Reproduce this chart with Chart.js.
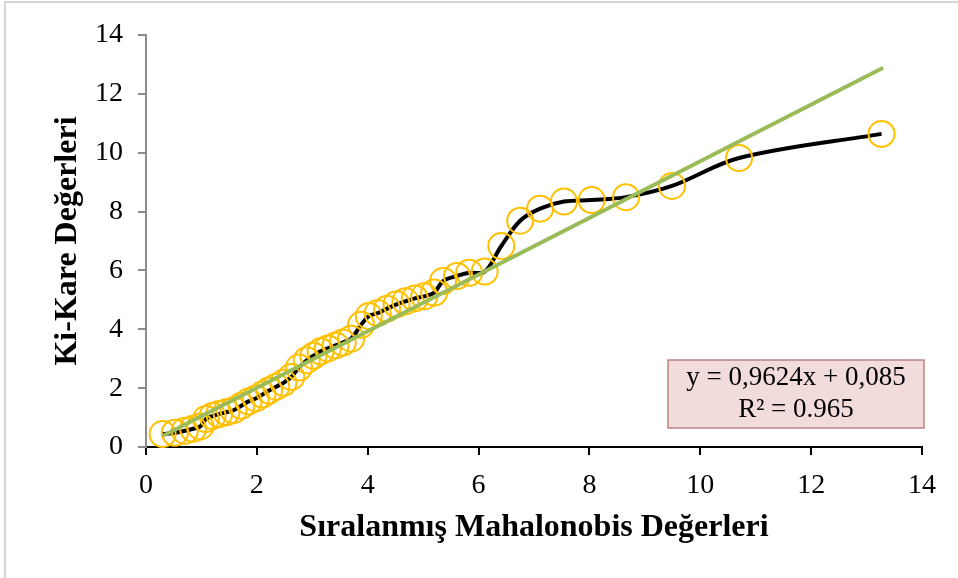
<!DOCTYPE html>
<html>
<head>
<meta charset="utf-8">
<script src="https://cdn.jsdelivr.net/npm/chart.js@4.4.1/dist/chart.umd.min.js"></script>
<style>
  html, body { margin: 0; padding: 0; background: #ffffff; }
  #wrap { width: 958px; height: 578px; position: relative; }
</style>
</head>
<body>
<div id="wrap"><canvas id="c" width="958" height="578"></canvas></div>
<script>
// Sorted Mahalanobis values (x) and chi-square quantiles (y)
const mahalanobis = [0.30, 0.52, 0.70, 0.85, 0.98, 1.08, 1.20, 1.32, 1.45, 1.58,
  1.72, 1.85, 1.98, 2.10, 2.22, 2.35, 2.48, 2.62, 2.76, 2.90,
  3.02, 3.15, 3.28, 3.42, 3.55, 3.70, 3.88, 4.02, 4.18, 4.35,
  4.52, 4.68, 4.85, 5.02, 5.20, 5.36, 5.61, 5.83, 6.11, 6.41,
  6.75, 7.11, 7.54, 8.04, 8.66, 9.49, 10.70, 13.27];
const chiSquare = [0.44, 0.48, 0.55, 0.62, 0.70, 0.95, 1.05, 1.12, 1.18, 1.25,
  1.40, 1.55, 1.65, 1.78, 1.92, 2.05, 2.18, 2.38, 2.70, 2.95,
  3.10, 3.25, 3.35, 3.45, 3.55, 3.68, 4.15, 4.45, 4.55, 4.70,
  4.85, 4.95, 5.05, 5.12, 5.25, 5.64, 5.81, 5.92, 5.96, 6.83,
  7.69, 8.10, 8.34, 8.39, 8.49, 8.87, 9.82, 10.64];
// Linear trend line as given on the chart
const trendSlope = 0.9624;
const trendIntercept = 0.085;
const trendRange = [0.30, 13.30];
const equationLines = ["y = 0,9624x + 0,085", "R\u00B2 = 0.965"];
const axisTicks = [0, 2, 4, 6, 8, 10, 12, 14];
const xTitle = "S\u0131ralanm\u0131\u015F Mahalonobis De\u011Ferleri";
const yTitle = "Ki-Kare De\u011Ferleri";

const points = mahalanobis.map((x, i) => ({ x: x, y: chiSquare[i] }));
const trendPoints = trendRange.map(x => ({ x: x, y: trendSlope * x + trendIntercept }));

const SERIF = "'Liberation Serif', 'Times New Roman', serif";

const framePlugin = {
  id: 'frame',
  beforeDraw(chart) {
    const ctx = chart.ctx;
    ctx.save();
    ctx.fillStyle = '#ffffff';
    ctx.fillRect(0, 0, chart.width, chart.height);
    ctx.strokeStyle = '#c8c8c8';
    ctx.lineWidth = 1.5;
    ctx.beginPath();
    ctx.moveTo(5, chart.height);
    ctx.lineTo(5, 2);
    ctx.lineTo(chart.width, 2);
    ctx.stroke();
    ctx.restore();
  }
};

const equationPlugin = {
  id: 'equation',
  afterDraw(chart) {
    const a = chart.chartArea;
    const ctx = chart.ctx;
    const left = a.right - 254, top = a.bottom - 87, w = 256, h = 68;
    ctx.save();
    ctx.fillStyle = '#F2DCDB';
    ctx.fillRect(left, top, w, h);
    ctx.strokeStyle = '#B98484';
    ctx.lineWidth = 1.5;
    ctx.strokeRect(left, top, w, h);
    ctx.fillStyle = '#000000';
    ctx.font = '27px ' + SERIF;
    ctx.textAlign = 'center';
    ctx.textBaseline = 'middle';
    ctx.fillText(equationLines[0], left + w / 2, top + 18);
    ctx.fillText(equationLines[1], left + w / 2, top + 50);
    ctx.restore();
  }
};

new Chart(document.getElementById('c'), {
  type: 'scatter',
  data: {
    datasets: [
      {
        label: 'trend',
        data: trendPoints,
        showLine: true,
        borderColor: '#9BBB59',
        borderWidth: 4,
        pointRadius: 0,
        tension: 0,
        clip: false
      },
      {
        label: 'data',
        data: points,
        showLine: true,
        borderColor: '#000000',
        borderWidth: 4,
        tension: 0.35,
        pointRadius: 13,
        pointBorderColor: '#FFC000',
        pointBorderWidth: 2,
        pointBackgroundColor: 'rgba(0,0,0,0)',
        clip: false
      }
    ]
  },
  options: {
    responsive: false,
    animation: false,
    events: [],
    layout: { padding: { top: 35, right: 36, bottom: 0, left: 0 } },
    plugins: {
      legend: { display: false },
      tooltip: { enabled: false }
    },
    scales: {
      x: {
        type: 'linear',
        min: 0, max: 14,
        afterBuildTicks: s => { s.ticks = axisTicks.map(v => ({ value: v })); },
        afterFit: s => { s.height = 131; },
        border: { color: '#000000', width: 2 },
        grid: { drawOnChartArea: false, drawTicks: true, tickLength: 8, color: '#000000', lineWidth: 2 },
        ticks: { color: '#000000', font: { family: SERIF, size: 28 }, padding: 14, maxRotation: 0 },
        title: {
          display: true, text: xTitle, color: '#000000',
          font: { family: SERIF, size: 32, weight: 'bold' },
          padding: { top: 0, bottom: 31 }
        }
      },
      y: {
        type: 'linear',
        min: 0, max: 14,
        afterBuildTicks: s => { s.ticks = axisTicks.map(v => ({ value: v })); },
        afterFit: s => { s.width = 146; },
        border: { color: '#8c8c8c', width: 2 },
        grid: { drawOnChartArea: false, drawTicks: true, tickLength: 8, color: '#8c8c8c', lineWidth: 2 },
        ticks: { color: '#000000', font: { family: SERIF, size: 28 }, padding: 15 },
        title: {
          display: true, text: yTitle, color: '#000000',
          font: { family: SERIF, size: 32, weight: 'bold' },
          padding: { top: 49, bottom: 0 }
        }
      }
    }
  },
  plugins: [framePlugin, equationPlugin]
});
</script>
</body>
</html>
